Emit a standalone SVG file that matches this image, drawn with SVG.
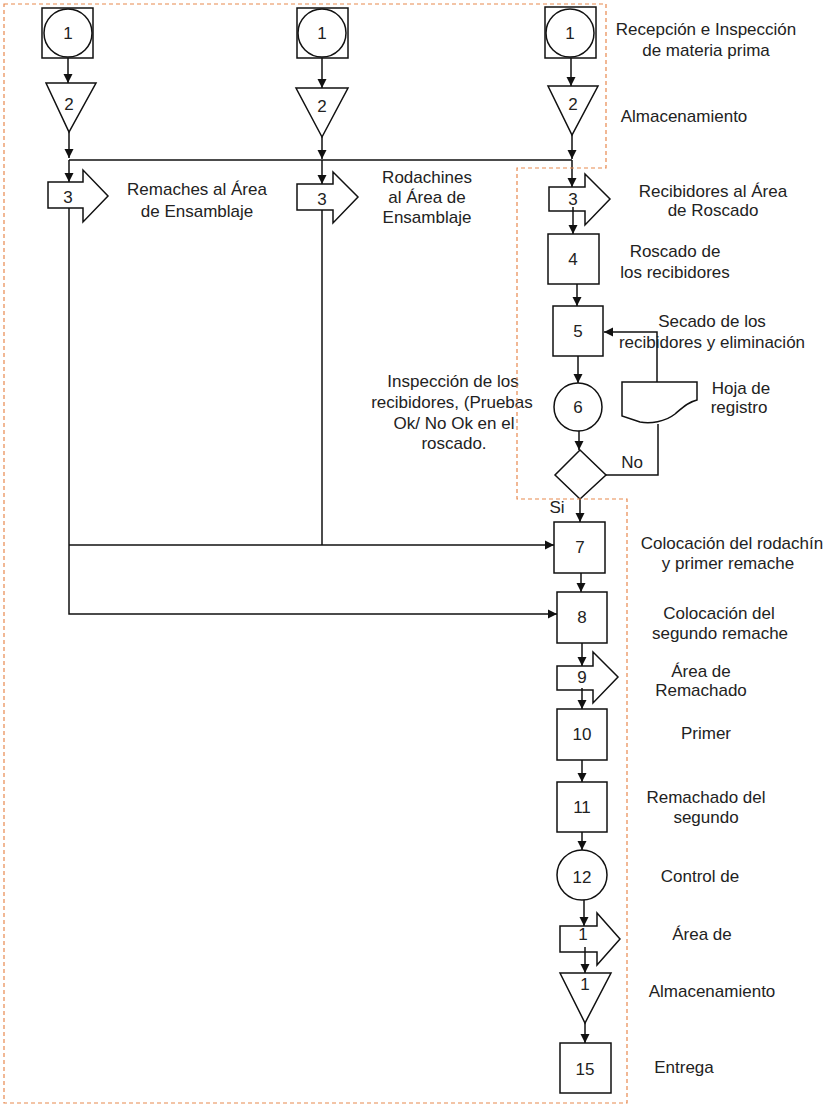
<svg xmlns="http://www.w3.org/2000/svg" width="828" height="1107" viewBox="0 0 828 1107">
<style>
.n{fill:#fff;stroke:#111;stroke-width:1.5}
.c{fill:none;stroke:#111;stroke-width:1.5}
.t{font-family:"Liberation Sans",Arial,sans-serif;font-size:17px;fill:#222;text-anchor:middle}
.b{fill:none;stroke:#E8894F;stroke-width:1.2;stroke-dasharray:4 3}
</style>
<defs>
<marker id="ah" viewBox="0 0 10 10" markerUnits="userSpaceOnUse" markerWidth="9" markerHeight="10" refX="10" refY="5" orient="auto">
<path d="M0,0 L10,5 L0,10 z" fill="#111"/>
</marker>
</defs>
<rect width="828" height="1107" fill="#fff"/>

<g id="n1a"><rect class="n" x="42" y="8" width="51" height="50"/><circle class="n" cx="68" cy="33" r="24"/><text class="t" x="68" y="39">1</text></g>
<g id="n1b"><rect class="n" x="297" y="8" width="51" height="50"/><circle class="n" cx="322" cy="33" r="24"/><text class="t" x="322" y="39">1</text></g>
<g id="n1c"><rect class="n" x="545" y="7" width="51" height="51"/><circle class="n" cx="570" cy="33" r="24"/><text class="t" x="570" y="39">1</text></g>

<g id="n2a"><path class="n" d="M46,83 H96 L69,132 Z"/><text class="t" x="69" y="110">2</text></g>
<g id="n2b"><path class="n" d="M296,88 H348 L322,137 Z"/><text class="t" x="322" y="112">2</text></g>
<g id="n2c"><path class="n" d="M548,86 H598 L572,135 Z"/><text class="t" x="573" y="110">2</text></g>

<g id="n3a"><path class="n" d="M48,182 H83 V170 L108,196 L83,222 V208 H48 Z"/><text class="t" x="68" y="203">3</text></g>
<g id="n3b"><path class="n" d="M297,184 H333 V172 L358,197 L333,223 V210 H297 Z"/><text class="t" x="322" y="205">3</text></g>
<g id="n3c"><path class="n" d="M549,187 H585 V174 L610,199 L585,225 V211 H549 Z"/><text class="t" x="573" y="205">3</text></g>

<g id="n4"><rect class="n" x="548" y="234" width="51" height="50"/><text class="t" x="573" y="265">4</text></g>
<g id="n5"><rect class="n" x="553" y="306" width="50" height="50"/><text class="t" x="578" y="337">5</text></g>
<g id="n6"><circle class="n" cx="578" cy="407" r="24"/><text class="t" x="578" y="413">6</text></g>
<g id="doc"><path class="n" d="M622,382 H697 V400 C688,402 682,408 675,414 C665,422 650,424 640,422 L622,416 Z"/></g>
<g id="dec"><path class="n" d="M580,450 L606,475 L580,499 L555,475 Z"/></g>
<g id="n7"><rect class="n" x="554" y="522" width="51" height="51"/><text class="t" x="580" y="553">7</text></g>
<g id="n8"><rect class="n" x="557" y="592" width="50" height="51"/><text class="t" x="582" y="623">8</text></g>
<g id="n9"><path class="n" d="M557,666 H593 V652 L618,677 L593,703 V690 H557 Z"/><text class="t" x="582" y="683">9</text></g>
<g id="n10"><rect class="n" x="557" y="709" width="50" height="51"/><text class="t" x="582" y="740">10</text></g>
<g id="n11"><rect class="n" x="557" y="782" width="50" height="50"/><text class="t" x="582" y="813">11</text></g>
<g id="n12"><circle class="n" cx="582" cy="875" r="25"/><text class="t" x="582" y="883">12</text></g>
<g id="n14"><path class="n" d="M560,926 H597 V913 L620,939 L597,965 V952 H560 Z"/><text class="t" x="583" y="940">1</text></g>
<g id="n13"><path class="n" d="M560,973 H611 L585,1023 Z"/><text class="t" x="585" y="990">1</text></g>
<g id="n15"><rect class="n" x="560" y="1043" width="51" height="50"/><text class="t" x="585" y="1075">15</text></g>

<g id="connectors">
<line class="c" x1="68" y1="58" x2="68" y2="83" marker-end="url(#ah)"/>
<line class="c" x1="69" y1="132" x2="69" y2="158" marker-end="url(#ah)"/>
<line class="c" x1="69" y1="160" x2="572" y2="160"/>
<line class="c" x1="69" y1="160" x2="69" y2="182" marker-end="url(#ah)"/>
<line class="c" x1="322" y1="58" x2="322" y2="88" marker-end="url(#ah)"/>
<line class="c" x1="322" y1="137" x2="322" y2="159" marker-end="url(#ah)"/>
<line class="c" x1="322" y1="160" x2="322" y2="184" marker-end="url(#ah)"/>
<line class="c" x1="571" y1="58" x2="571" y2="86" marker-end="url(#ah)"/>
<line class="c" x1="572" y1="135" x2="572" y2="159" marker-end="url(#ah)"/>
<line class="c" x1="572" y1="160" x2="572" y2="187" marker-end="url(#ah)"/>
<line class="c" x1="573" y1="207" x2="573" y2="234" marker-end="url(#ah)"/>
<line class="c" x1="577" y1="284" x2="577" y2="306" marker-end="url(#ah)"/>
<line class="c" x1="578" y1="356" x2="578" y2="383" marker-end="url(#ah)"/>
<line class="c" x1="579" y1="431" x2="579" y2="450" marker-end="url(#ah)"/>
<line class="c" x1="580" y1="499" x2="580" y2="522" marker-end="url(#ah)"/>
<line class="c" x1="581" y1="573" x2="581" y2="592" marker-end="url(#ah)"/>
<line class="c" x1="582" y1="643" x2="582" y2="666" marker-end="url(#ah)"/>
<line class="c" x1="582" y1="688" x2="582" y2="709" marker-end="url(#ah)"/>
<line class="c" x1="582" y1="760" x2="582" y2="782" marker-end="url(#ah)"/>
<line class="c" x1="582" y1="832" x2="582" y2="850" marker-end="url(#ah)"/>
<line class="c" x1="584" y1="900" x2="584" y2="926" marker-end="url(#ah)"/>
<line class="c" x1="585" y1="947" x2="585" y2="973" marker-end="url(#ah)"/>
<line class="c" x1="585" y1="1023" x2="585" y2="1043" marker-end="url(#ah)"/>
<path class="c" d="M69,208 V614 H557" marker-end="url(#ah)"/>
<path class="c" d="M69,545 H554" marker-end="url(#ah)"/>
<path class="c" d="M322,210 V545"/>
<path class="c" d="M606,475 H658 V424"/>
<path class="c" d="M657,382 V332 H604" marker-end="url(#ah)"/>
</g>

<g id="labels">
<text class="t" x="706" y="35">Recepción e Inspección</text>
<text class="t" x="706" y="56">de materia prima</text>
<text class="t" x="684" y="122">Almacenamiento</text>
<text class="t" x="197" y="195">Remaches al Área</text>
<text class="t" x="197" y="217">de Ensamblaje</text>
<text class="t" x="427" y="183">Rodachines</text>
<text class="t" x="427" y="203">al Área de</text>
<text class="t" x="427" y="223">Ensamblaje</text>
<text class="t" x="713" y="197">Recibidores al Área</text>
<text class="t" x="713" y="216">de Roscado</text>
<text class="t" x="675" y="257">Roscado de</text>
<text class="t" x="675" y="278">los recibidores</text>
<text class="t" x="712" y="327">Secado de los</text>
<text class="t" x="712" y="348">recibidores y eliminación</text>
<text class="t" x="741" y="394">Hoja de</text>
<text class="t" x="739" y="413">registro</text>
<text class="t" x="453" y="387">Inspección de los</text>
<text class="t" x="452" y="408">recibidores, (Pruebas</text>
<text class="t" x="454" y="429">Ok/ No Ok en el</text>
<text class="t" x="454" y="449">roscado.</text>
<text class="t" x="632" y="468">No</text>
<text class="t" x="557" y="513">Si</text>
<text class="t" x="732" y="549">Colocación del rodachín</text>
<text class="t" x="728" y="569">y primer remache</text>
<text class="t" x="719" y="619">Colocación del</text>
<text class="t" x="720" y="639">segundo remache</text>
<text class="t" x="701" y="677">Área de</text>
<text class="t" x="701" y="696">Remachado</text>
<text class="t" x="706" y="739">Primer</text>
<text class="t" x="706" y="803">Remachado del</text>
<text class="t" x="706" y="823">segundo</text>
<text class="t" x="700" y="882">Control de</text>
<text class="t" x="702" y="940">Área de</text>
<text class="t" x="712" y="997">Almacenamiento</text>
<text class="t" x="684" y="1073">Entrega</text>
</g>

<path id="boundary" class="b" d="M4,4 H606 V168 H517 V499 H627 V1103 H4 Z"/>
</svg>
